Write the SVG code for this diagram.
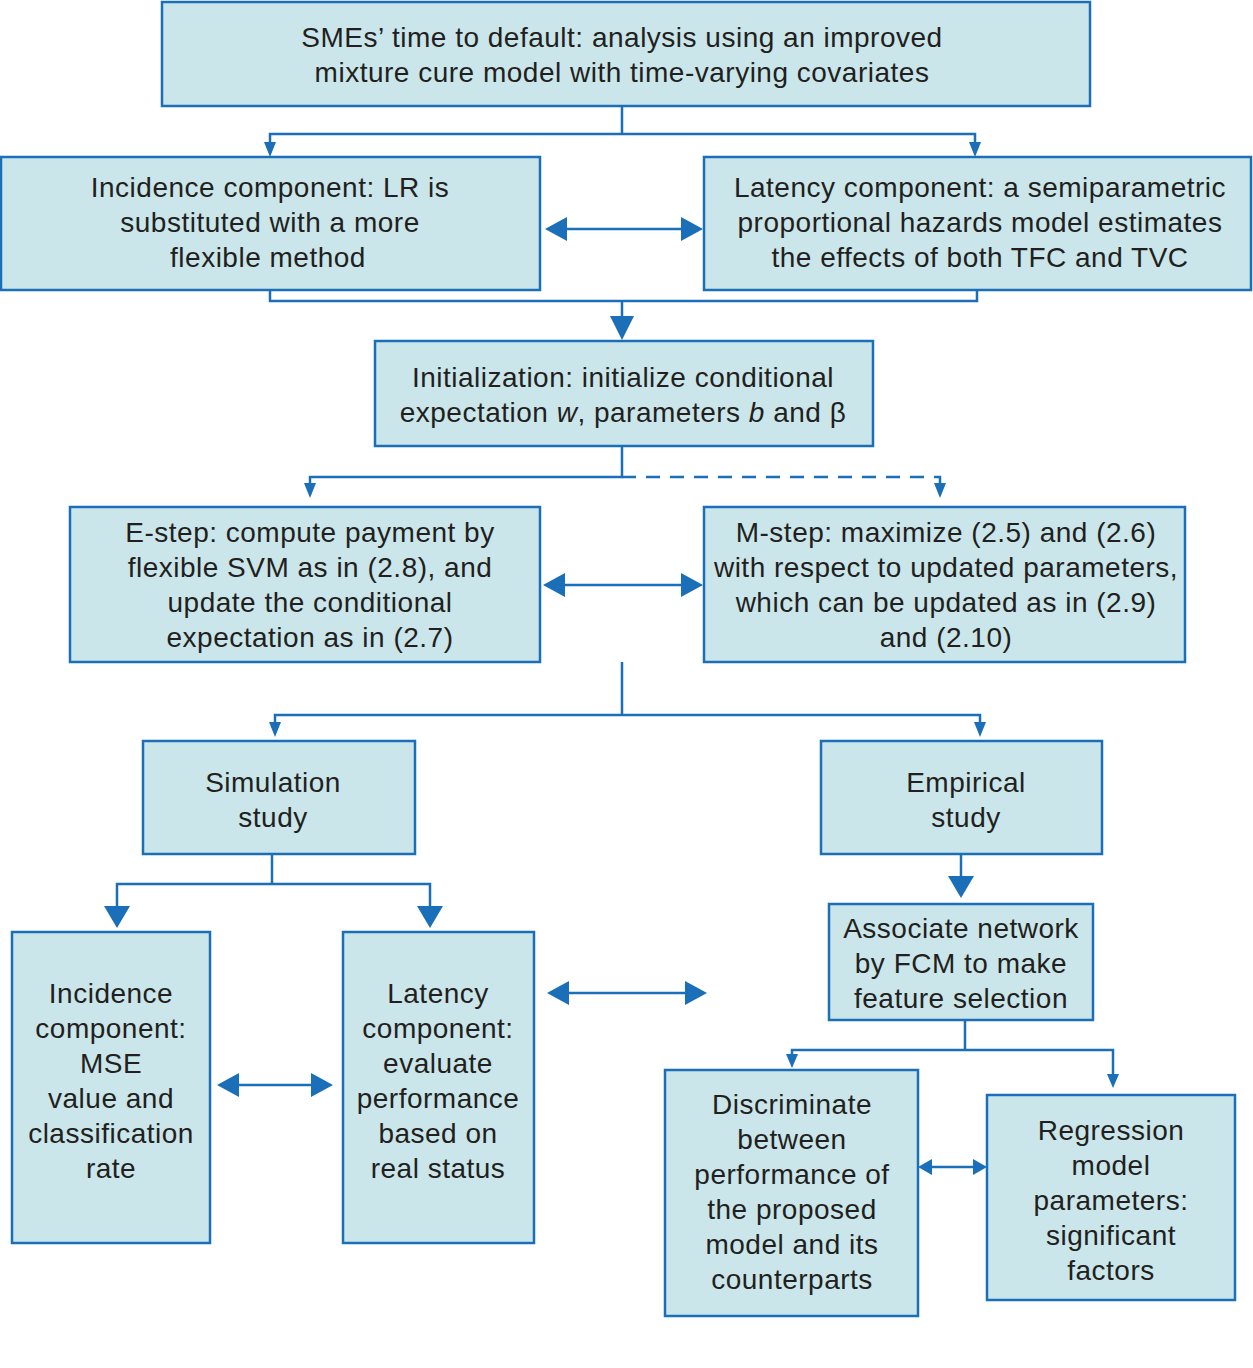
<svg xmlns="http://www.w3.org/2000/svg" width="1253" height="1368" viewBox="0 0 1253 1368">
<style>
.n{fill:#cae6ea;stroke:#1a6fb8;stroke-width:2.5}
.t{font-family:"Liberation Sans",Arial,sans-serif;font-size:28px;letter-spacing:0.5px;fill:#231f20;text-anchor:middle}
.c{fill:none;stroke:#1a6fb8;stroke-width:2.5}
.d{stroke-dasharray:14,10}
.h{fill:#1a6fb8}
</style>
<rect width="1253" height="1368" fill="#fff"/>
<g id="title"><rect class="n" x="162" y="2" width="928" height="104"/>
<text class="t" x="622" y="47">SMEs’ time to default: analysis using an improved</text>
<text class="t" x="622" y="82">mixture cure model with time-varying covariates</text></g>
<g id="incidence"><rect class="n" x="1" y="157" width="539" height="133"/>
<text class="t" x="270" y="197">Incidence component: LR is</text>
<text class="t" x="270" y="232">substituted with a more</text>
<text class="t" x="268" y="267">flexible method</text></g>
<g id="latency"><rect class="n" x="704" y="157" width="547" height="133"/>
<text class="t" x="980" y="197">Latency component: a semiparametric</text>
<text class="t" x="980" y="232">proportional hazards model estimates</text>
<text class="t" x="980" y="267">the effects of both TFC and TVC</text></g>
<g id="init"><rect class="n" x="375" y="341" width="498" height="105"/>
<text class="t" x="623" y="387">Initialization: initialize conditional</text>
<text class="t" x="623" y="422">expectation <tspan font-style="italic">w</tspan>, parameters <tspan font-style="italic">b</tspan> and β</text></g>
<g id="estep"><rect class="n" x="70" y="507" width="470" height="155"/>
<text class="t" x="310" y="542">E-step: compute payment by</text>
<text class="t" x="310" y="577">flexible SVM as in (2.8), and</text>
<text class="t" x="310" y="612">update the conditional</text>
<text class="t" x="310" y="647">expectation as in (2.7)</text></g>
<g id="mstep"><rect class="n" x="704" y="507" width="481" height="155"/>
<text class="t" x="946" y="542">M-step: maximize (2.5) and (2.6)</text>
<text class="t" x="946" y="577">with respect to updated parameters,</text>
<text class="t" x="946" y="612">which can be updated as in (2.9)</text>
<text class="t" x="946" y="647">and (2.10)</text></g>
<g id="simulation"><rect class="n" x="143" y="741" width="272" height="113"/>
<text class="t" x="273" y="792">Simulation</text>
<text class="t" x="273" y="827">study</text></g>
<g id="empirical"><rect class="n" x="821" y="741" width="281" height="113"/>
<text class="t" x="966" y="792">Empirical</text>
<text class="t" x="966" y="827">study</text></g>
<g id="inc2"><rect class="n" x="12" y="932" width="198" height="311"/>
<text class="t" x="111" y="1003">Incidence</text>
<text class="t" x="111" y="1038">component:</text>
<text class="t" x="111" y="1073">MSE</text>
<text class="t" x="111" y="1108">value and</text>
<text class="t" x="111" y="1143">classification</text>
<text class="t" x="111" y="1178">rate</text></g>
<g id="lat2"><rect class="n" x="343" y="932" width="191" height="311"/>
<text class="t" x="438" y="1003">Latency</text>
<text class="t" x="438" y="1038">component:</text>
<text class="t" x="438" y="1073">evaluate</text>
<text class="t" x="438" y="1108">performance</text>
<text class="t" x="438" y="1143">based on</text>
<text class="t" x="438" y="1178">real status</text></g>
<g id="associate"><rect class="n" x="829" y="904" width="264" height="116"/>
<text class="t" x="961" y="938">Associate network</text>
<text class="t" x="961" y="973">by FCM to make</text>
<text class="t" x="961" y="1008">feature selection</text></g>
<g id="discriminate"><rect class="n" x="665" y="1070" width="253" height="246"/>
<text class="t" x="792" y="1114">Discriminate</text>
<text class="t" x="792" y="1149">between</text>
<text class="t" x="792" y="1184">performance of</text>
<text class="t" x="792" y="1219">the proposed</text>
<text class="t" x="792" y="1254">model and its</text>
<text class="t" x="792" y="1289">counterparts</text></g>
<g id="regression"><rect class="n" x="987" y="1095" width="248" height="205"/>
<text class="t" x="1111" y="1140">Regression</text>
<text class="t" x="1111" y="1175">model</text>
<text class="t" x="1111" y="1210">parameters:</text>
<text class="t" x="1111" y="1245">significant</text>
<text class="t" x="1111" y="1280">factors</text></g>
<g id="connectors">
<path class="c" d="M622 106V134M270 144V134H975V144"/>
<path class="h" d="M264 142h12l-6 15z M969 142h12l-6 15z"/>
<path class="c" d="M566 229H682"/>
<path class="h" d="M545 229l22-12v24z M703 229l-22-12v24z"/>
<path class="c" d="M270 290V301H977V290M622 301V318"/>
<path class="h" d="M610 316h24l-12 24z"/>
<path class="c" d="M622 446V477H310V485"/>
<path class="c d" d="M622 477H940V485"/>
<path class="h" d="M304 483h12l-6 15z M934 483h12l-6 15z"/>
<path class="c" d="M564 585H682"/>
<path class="h" d="M543 585l22-12v24z M703 585l-22-12v24z"/>
<path class="c" d="M622 662V715M275 724V715H980V724"/>
<path class="h" d="M269 722h12l-6 15z M974 722h12l-6 15z"/>
<path class="c" d="M272 854V884M117 908V884H430V908"/>
<path class="h" d="M104 906h26l-13 22z M417 906h26l-13 22z"/>
<path class="c" d="M238 1085H312"/>
<path class="h" d="M217 1085l22-12v24z M333 1085l-22-12v24z"/>
<path class="c" d="M568 993H686"/>
<path class="h" d="M547 993l22-12v24z M707 993l-22-12v24z"/>
<path class="c" d="M961 854V878"/>
<path class="h" d="M948 876h26l-13 22z"/>
<path class="c" d="M965 1020V1050M792 1056V1050H1113V1076"/>
<path class="h" d="M786 1054h12l-6 14z M1107 1074h12l-6 14z"/>
<path class="c" d="M930 1167H975"/>
<path class="h" d="M918 1167l14-8v16z M987 1167l-14-8v16z"/>
</g>
</svg>
